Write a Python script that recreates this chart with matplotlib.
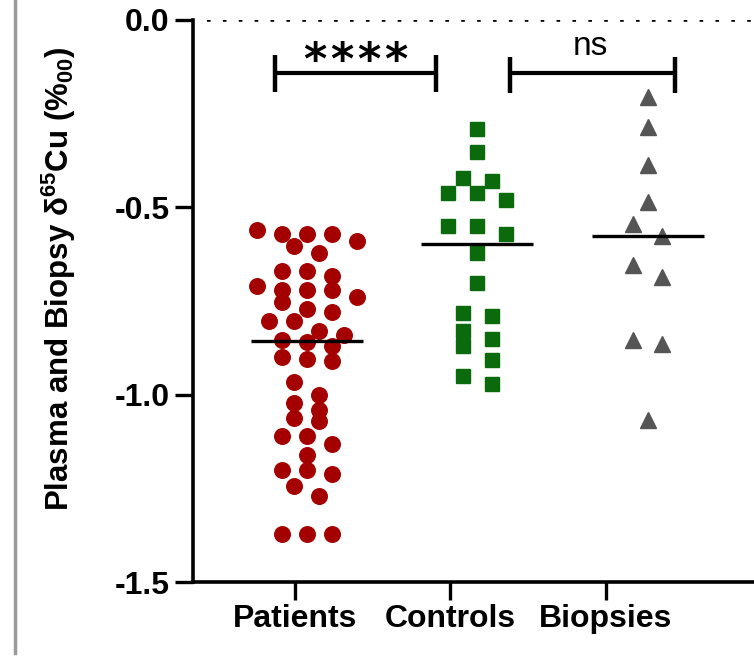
import matplotlib
matplotlib.use('Agg')
import matplotlib.pyplot as plt
import numpy as np
from matplotlib.lines import Line2D

plt.rcParams['font.family'] = ['Liberation Sans', 'DejaVu Sans']
plt.rcParams['mathtext.default'] = 'regular'

# data (delta 65Cu, per mil)
groups = ['Patients', 'Controls', 'Biopsies']
patients = [-0.571, -0.560, -0.571, -0.591, -0.571, -0.603, -0.622, -0.669,
            -0.671, -0.682, -0.709, -0.720, -0.720, -0.720, -0.738, -0.753,
            -0.778, -0.771, -0.803, -0.803, -0.840, -0.831, -0.853, -0.859,
            -0.871, -0.904, -0.900, -0.909, -0.965, -1.000, -1.022, -1.042,
            -1.071, -1.061, -1.131, -1.111, -1.111, -1.160, -1.211, -1.200,
            -1.200, -1.243, -1.271, -1.371, -1.371, -1.371]
controls = [-0.291, -0.351, -0.429, -0.422, -0.480, -0.461, -0.461, -0.551,
            -0.551, -0.571, -0.622, -0.701, -0.791, -0.782, -0.831, -0.871,
            -0.851, -0.907, -0.949, -0.971]
biopsies = [-0.205, -0.285, -0.387, -0.485, -0.544, -0.576, -0.653, -0.685,
            -0.853, -0.864, -1.067]
yticks = [0.0, -0.5, -1.0, -1.5]
sig_labels = ['****', 'ns']


def scatter_offsets(vals, step_px, bin_h):
    # GraphPad style rows: values within bin_h share a row, spread symmetrically
    vals = np.asarray(vals)
    order = np.argsort(-vals)
    offs = np.zeros(len(vals))
    i = 0
    while i < len(order):
        start = vals[order[i]]
        j = i
        while j < len(order) and start - vals[order[j]] <= bin_h:
            j += 1
        idx = order[i:j]
        n = len(idx)
        for k, ii in enumerate(idx):
            offs[ii] = (k - (n - 1) / 2.0) * step_px
        i = j
    return offs


fig = plt.figure(figsize=(7.54, 6.66), dpi=100)
ax = fig.add_axes([0.256, 0.126, 0.744, 0.844])
ax.set_xlim(-0.657, 2.956)
ax.set_ylim(-1.5, 0)

# points sit on a slightly wider x scale than the tick labels
ax2 = fig.add_axes([0.256, 0.126, 0.744, 0.844], sharey=ax, frameon=False)
ax2.set_xlim(-0.667, 2.623)
ax2.axis('off')

for s in ['top', 'right']:
    ax.spines[s].set_visible(False)
for s in ['left', 'bottom']:
    ax.spines[s].set_linewidth(2.6)

ax.set_xticks(range(len(groups)))
ax.set_xticklabels(groups, fontsize=23, fontweight='bold')
ax.set_yticks(yticks)
ax.set_yticklabels(['%.1f' % t for t in yticks], fontsize=23, fontweight='bold')
ax.tick_params(axis='both', width=2.4, length=13, pad=4)
ax.tick_params(axis='x', pad=3)

ax.set_ylabel('Plasma and Biopsy δ$^{65}$Cu (%$_{00}$)', fontsize=22.5,
              fontweight='bold')
ax.yaxis.set_label_coords(-0.205, 0.54)

ax.axhline(0, color='black', lw=2.6, ls=(0, (1, 3.4)), xmin=0.025)

# pixel scale of overlay
p0 = ax2.transData.transform((0, 0))
p1 = ax2.transData.transform((1, 1))
ppu_x = p1[0] - p0[0]

styles = [
    (patients, 'o', 11.2, '#a50000', 25.0),
    (controls, 's', 10.5, '#0b6a0b', 29.0),
    (biopsies, '^', 11.5, '#555555', 29.0),
]
for gi, (vals, mk, ms, col, step) in enumerate(styles):
    offs = scatter_offsets(vals, step, 0.038) / ppu_x
    ax2.plot(gi + offs, vals, mk, ms=ms, color=col, mec=col, ls='none',
             clip_on=False, zorder=3)
    med = np.median(vals)
    ax2.plot([gi - 0.328, gi + 0.328], [med, med], color='black', lw=2.4,
             zorder=4, solid_capstyle='butt')

# significance brackets
brackets = [(-0.186, 0.758, -0.1405, -0.093, -0.192, 0.286, -0.074),
            (1.192, 2.160, -0.141, -0.098, -0.195, 1.662, -0.071)]
pitch = 27.0 / ppu_x
for (xa, xb, yh, yt, yb, xt, ytxt), lab in zip(brackets, sig_labels):
    ax2.plot([xa, xb], [yh, yh], color='black', lw=3, solid_capstyle='butt')
    ax2.plot([xa, xa], [yt, yb], color='black', lw=3.2, solid_capstyle='butt')
    ax2.plot([xb, xb], [yt, yb], color='black', lw=3.2, solid_capstyle='butt')
    if lab == 'ns':
        ax2.text(xt, ytxt, lab, ha='center', va='center', fontsize=24)
    else:
        n = len(lab)
        for k, ch in enumerate(lab):
            ax2.text(xt + (k - (n - 1) / 2.0) * pitch, ytxt - 0.036, ch,
                     ha='center', va='center', fontsize=32,
                     fontweight='bold', family='DejaVu Sans')

# grey panel border on the left
fig.add_artist(Line2D([0.02, 0.02], [0.02, 1.0], transform=fig.transFigure,
                      color='#9a9a9a', lw=2.5))

fig.savefig('out.png', dpi=100)
